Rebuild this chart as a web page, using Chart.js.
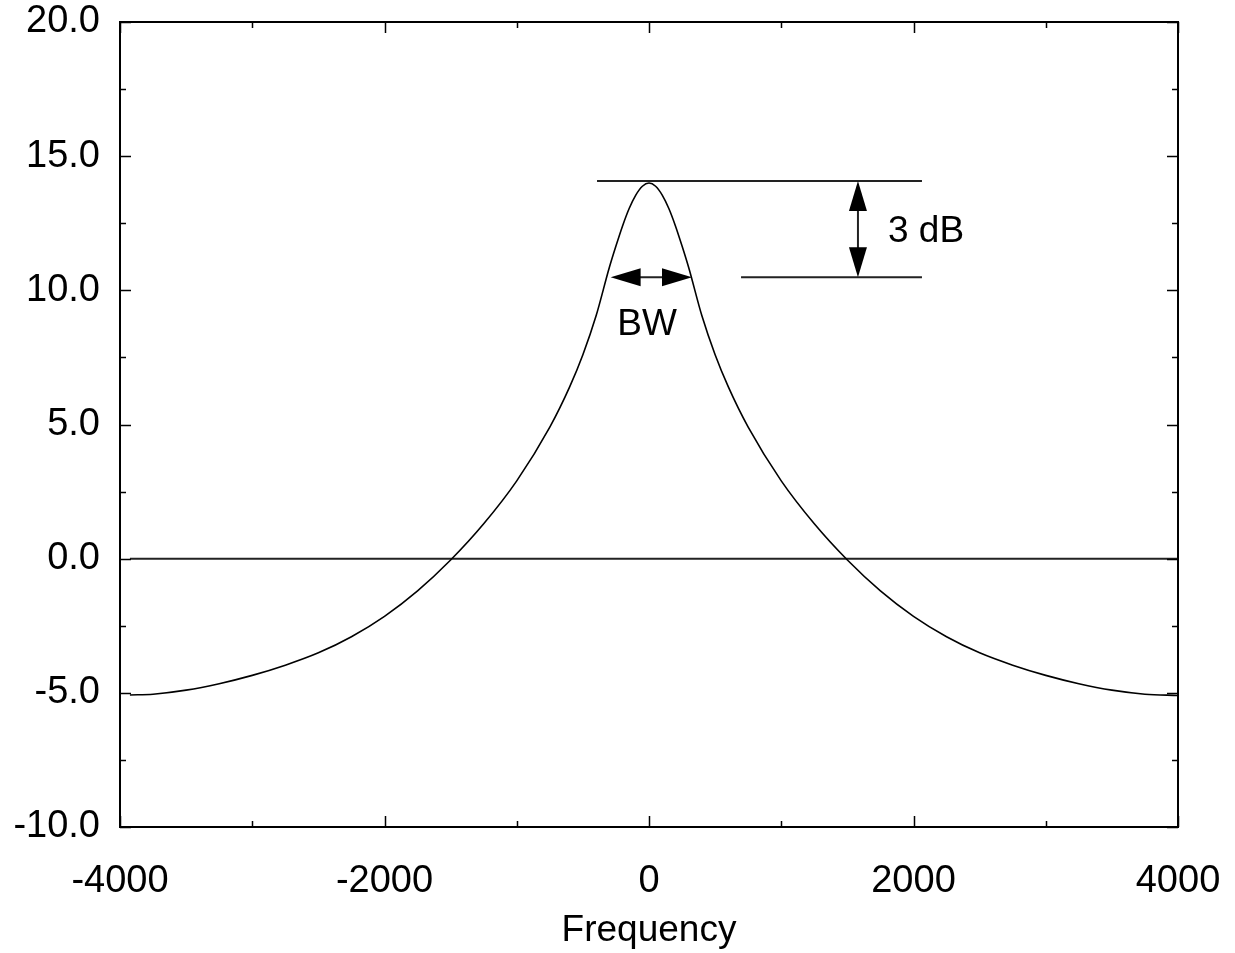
<!DOCTYPE html>
<html>
<head>
<meta charset="utf-8">
<script src="https://cdn.jsdelivr.net/npm/chart.js@4"></script>
<style>
  html, body { margin: 0; padding: 0; background: #fff; }
  #wrap { width: 1235px; height: 953px; }
</style>
</head>
<body>
<div id="wrap"><canvas id="resp_chart"></canvas></div>
<script>
      // response curve
      const freq = [-3925, -3750, -3500, -3250, -3000, -2750, -2500, -2250, -2000, -1750, -1500, -1250, -1000, -750, -600, -500, -400, -300, -250, -200, -150, -100, -50,
                    0, 50, 100, 150, 200, 250, 300, 400, 500, 600, 750, 1000, 1250, 1500, 1750, 2000, 2250, 2500, 2750, 3000, 3250, 3500, 3750, 4000];
      const gain = [-5.08, -5.05, -4.9, -4.66, -4.35, -3.97, -3.51, -2.91, -2.15, -1.2, -0.05, 1.3, 2.9, 4.9, 6.4, 7.6, 9.05, 10.85, 11.65, 12.4, 13.05, 13.55, 13.88,
                    14.0, 13.88, 13.55, 13.05, 12.4, 11.65, 10.85, 9.05, 7.6, 6.4, 4.9, 2.9, 1.3, -0.05, -1.2, -2.15, -2.91, -3.51, -3.97, -4.35, -4.66, -4.9, -5.05, -5.1];

      // zero reference line
      const zeroX = [-3925, 4000];
      const zeroY = [0, 0];

      // 3 dB markers
      const topLineX = [-393, 2064];
      const topLevel = 14.07;
      const lowLineX = [696, 2064];
      const lowLevel = 10.49;
      const dbArrowX = 1580;
      const bwArrowX = [-290, 325];
      const dbLabel = { x: 1807, y: 12.2, text: '3 dB' };
      const bwLabel = { x: -15, y: 8.7, text: 'BW' };

      const xTicks = [-4000, -2000, 0, 2000, 4000];
      const yTicks = [-10, -5, 0, 5, 10, 15, 20];

      const FONT = "'Liberation Sans', Arial, Helvetica, sans-serif";

      function pts(xs, ys) {
        return xs.map((x, i) => ({ x: x, y: ys[i] }));
      }

      function arrowHead(ctx, tx, ty, dx, dy) {
        // tip at (tx,ty), pointing along (dx,dy)
        const len = 30, half = 9;
        const bx = tx - dx * len, by = ty - dy * len;
        ctx.beginPath();
        ctx.moveTo(tx, ty);
        ctx.lineTo(bx - dy * half, by + dx * half);
        ctx.lineTo(bx + dy * half, by - dx * half);
        ctx.closePath();
        ctx.fill();
      }

      const framePlugin = {
        id: 'frame',
        afterDatasetsDraw(chart) {
          const ctx = chart.ctx;
          const a = chart.chartArea;
          const xs = chart.scales.x, ys = chart.scales.y;
          ctx.save();
          ctx.strokeStyle = '#000';
          ctx.fillStyle = '#000';

          // box
          ctx.lineWidth = 2;
          ctx.strokeRect(a.left, a.top, a.right - a.left, a.bottom - a.top);

          // ticks, pointing inward
          ctx.lineWidth = 1.5;
          const drawX = (v, len) => {
            const p = Math.round(xs.getPixelForValue(v)) + 0.5;
            ctx.beginPath();
            ctx.moveTo(p, a.bottom); ctx.lineTo(p, a.bottom - len);
            ctx.moveTo(p, a.top); ctx.lineTo(p, a.top + len);
            ctx.stroke();
          };
          const drawY = (v, len) => {
            const p = Math.round(ys.getPixelForValue(v)) + 0.5;
            ctx.beginPath();
            ctx.moveTo(a.left, p); ctx.lineTo(a.left + len, p);
            ctx.moveTo(a.right, p); ctx.lineTo(a.right - len, p);
            ctx.stroke();
          };
          xTicks.forEach((v, i) => {
            drawX(v, 11);
            if (i > 0) drawX((v + xTicks[i - 1]) / 2, 6);
          });
          yTicks.forEach((v, i) => {
            drawY(v, 11);
            if (i > 0) drawY((v + yTicks[i - 1]) / 2, 6);
          });

          // 3 dB marker lines
          ctx.strokeStyle = '#222';
          ctx.lineWidth = 2;
          const yTop = ys.getPixelForValue(topLevel);
          const yLow = ys.getPixelForValue(lowLevel);
          ctx.beginPath();
          ctx.moveTo(xs.getPixelForValue(topLineX[0]), yTop);
          ctx.lineTo(xs.getPixelForValue(topLineX[1]), yTop);
          ctx.moveTo(xs.getPixelForValue(lowLineX[0]), yLow);
          ctx.lineTo(xs.getPixelForValue(lowLineX[1]), yLow);
          ctx.stroke();

          // vertical 3 dB arrow
          const ax = xs.getPixelForValue(dbArrowX);
          ctx.beginPath();
          ctx.moveTo(ax, yTop + 20); ctx.lineTo(ax, yLow - 20);
          ctx.stroke();
          ctx.fillStyle = '#000';
          arrowHead(ctx, ax, yTop, 0, -1);
          arrowHead(ctx, ax, yLow, 0, 1);

          // BW arrow
          const b0 = xs.getPixelForValue(bwArrowX[0]);
          const b1 = xs.getPixelForValue(bwArrowX[1]);
          ctx.beginPath();
          ctx.moveTo(b0 + 20, yLow); ctx.lineTo(b1 - 20, yLow);
          ctx.stroke();
          arrowHead(ctx, b0, yLow, -1, 0);
          arrowHead(ctx, b1, yLow, 1, 0);

          // labels
          ctx.font = '37px ' + FONT;
          ctx.textBaseline = 'middle';
          ctx.textAlign = 'left';
          ctx.fillText(dbLabel.text, xs.getPixelForValue(dbLabel.x), ys.getPixelForValue(dbLabel.y));
          ctx.textAlign = 'center';
          ctx.fillText(bwLabel.text, xs.getPixelForValue(bwLabel.x), ys.getPixelForValue(bwLabel.y));
          ctx.restore();
        }
      };

      const ctx1 = document.getElementById('resp_chart').getContext('2d');
      const chart1 = new Chart(ctx1, {
        type: 'scatter',
        data: {
          datasets: [{
            label: 'response',
            data: pts(freq, gain),
            showLine: true,
            borderColor: '#000',
            borderWidth: 1.6,
            pointRadius: 0,
            cubicInterpolationMode: 'monotone'
          }, {
            label: 'zero',
            data: pts(zeroX, zeroY),
            showLine: true,
            borderColor: '#222',
            borderWidth: 2,
            pointRadius: 0
          }]
        },
        options: {
          responsive: true,
          maintainAspectRatio: false,
          animation: false,
          layout: { padding: { top: 22, right: 57, left: 0, bottom: 0 } },
          plugins: {
            legend: { display: false },
            tooltip: { enabled: false }
          },
          scales: {
            x: {
              type: 'linear',
              min: -4000,
              max: 4000,
              grid: { display: false, drawTicks: false },
              border: { display: false },
              afterFit(scale) {
                scale.height = 126;
                scale.paddingLeft = 0;
                scale.paddingRight = 0;
              },
              afterBuildTicks(scale) { scale.ticks = xTicks.map(v => ({ value: v })); },
              ticks: {
                color: '#000',
                padding: 32,
                maxRotation: 0,
                autoSkip: false,
                font: { family: FONT, size: 38 },
                callback: v => String(v)
              },
              title: {
                display: true,
                text: 'Frequency',
                color: '#000',
                font: { family: FONT, size: 37 },
                padding: { top: 0, bottom: 0 }
              }
            },
            y: {
              type: 'linear',
              min: -10,
              max: 20,
              grid: { display: false, drawTicks: false },
              border: { display: false },
              afterFit(scale) {
                scale.width = 120;
                scale.paddingTop = 0;
                scale.paddingBottom = 0;
              },
              afterBuildTicks(scale) { scale.ticks = yTicks.map(v => ({ value: v })); },
              ticks: {
                color: '#000',
                padding: 20,
                autoSkip: false,
                font: { family: FONT, size: 38 },
                callback: v => Number(v).toFixed(1)
              }
            }
          }
        },
        plugins: [framePlugin]
      });
</script>
</body>
</html>
